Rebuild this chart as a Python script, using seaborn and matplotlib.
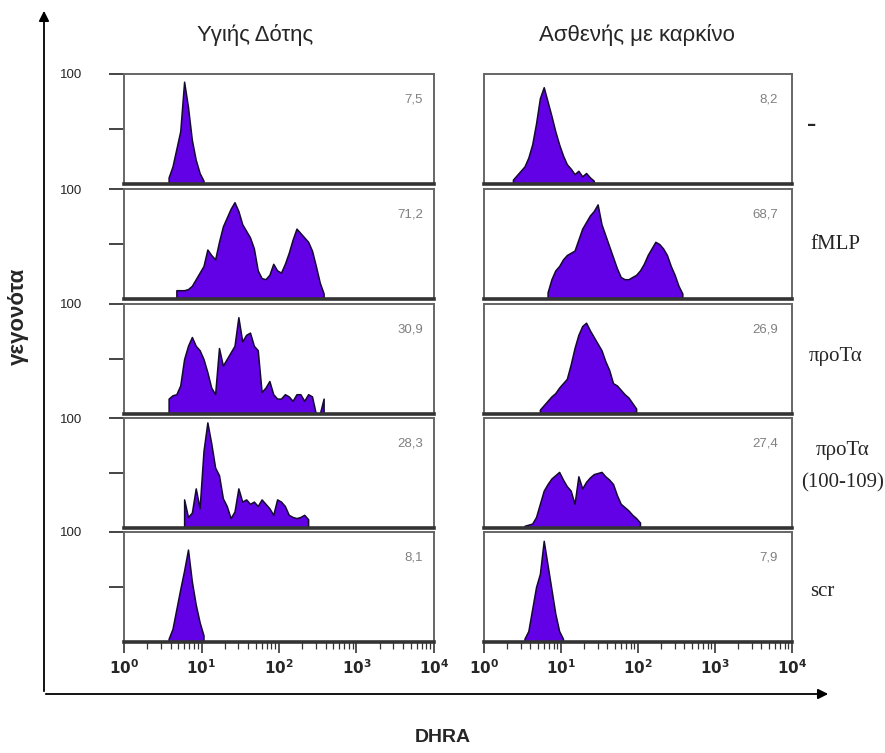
import numpy as np
import pandas as pd
import matplotlib
matplotlib.use("Agg")
import matplotlib.pyplot as plt
from matplotlib.ticker import LogLocator, NullFormatter, NullLocator, FixedLocator, FuncFormatter
import seaborn as sns

# ---- data ----
BIN_W = 0.05  # bin width in decades of DHRA fluorescence

columns = ["Υγιής Δότης", "Ασθενής με καρκίνο"]
conditions = ["-", "fMLP", "προΤα", "προΤα\n(100-109)", "scr"]
healthy_pct = ["7,5", "71,2", "30,9", "28,3", "8,1"]
patient_pct = ["8,2", "68,7", "26,9", "27,4", "7,9"]

# log10 of first bin edge for each panel
healthy_start = [0.55, 0.65, 0.55, 0.75, 0.55]
patient_start = [0.35, 0.80, 0.70, 0.50, 0.50]

# events per bin (% of panel max)
healthy_ctrl = [6, 16, 32, 48, 93, 70, 40, 22, 10, 3]
healthy_fmlp = [8, 8, 8, 9, 12, 18, 24, 30, 45, 40, 36, 52, 66, 74, 82, 88, 80,
                68, 62, 56, 46, 26, 19, 18, 22, 32, 26, 24, 32, 42, 54, 64, 60,
                56, 52, 44, 30, 15, 5]
healthy_prota = [14, 17, 18, 26, 50, 62, 70, 62, 58, 50, 38, 24, 18, 60, 44, 50,
                 56, 62, 88, 66, 72, 74, 62, 58, 20, 24, 30, 18, 14, 14, 18, 16,
                 12, 18, 18, 12, 18, 16, 0, 0, 14]
healthy_frag = [26, 10, 14, 36, 18, 70, 96, 77, 55, 48, 27, 20, 9, 15, 36, 24, 26,
                22, 24, 20, 26, 22, 18, 12, 26, 24, 20, 12, 10, 9, 10, 12, 8]
healthy_scr = [3, 12, 30, 48, 65, 84, 55, 34, 18, 6]

patient_ctrl = [4, 8, 12, 16, 24, 36, 55, 78, 88, 75, 62, 48, 36, 26, 18, 14, 9,
                12, 7, 10, 6, 3]
patient_fmlp = [6, 18, 26, 30, 36, 40, 42, 44, 54, 64, 70, 76, 80, 86, 68, 58, 48,
                38, 28, 20, 18, 18, 20, 22, 26, 32, 40, 46, 52, 50, 46, 40, 30,
                22, 12, 5]
patient_prota = [4, 8, 12, 16, 19, 24, 28, 32, 45, 60, 72, 80, 83, 76, 70, 64, 58,
                 48, 40, 28, 26, 22, 18, 15, 10, 5]
patient_frag = [2, 3, 4, 10, 22, 34, 40, 45, 48, 51, 44, 38, 34, 22, 47, 36, 42,
                46, 49, 50, 51, 47, 44, 40, 30, 22, 19, 16, 12, 9, 5]
patient_scr = [3, 10, 30, 50, 62, 92, 70, 48, 26, 10, 3]

PURPLE = "#6200e6"
EDGE = "#140a30"

W, H = 885, 753
col_left = [124, 484]
col_width = [310, 308]
row_top = [74, 189, 304, 418, 532]
row_h = 110

sns.set_style("white")
plt.rcParams["font.family"] = ["Liberation Sans", "DejaVu Sans"]

fig = plt.figure(figsize=(W / 100, H / 100), dpi=100)

# overlay in pixel coordinates for the big axis arrows
ov = fig.add_axes([0, 0, 1, 1], facecolor="none")
ov.set_xlim(0, W)
ov.set_ylim(H, 0)
ov.axis("off")
ov.annotate("", xy=(44, 8), xytext=(44, 694),
            arrowprops=dict(arrowstyle="-|>", lw=1.3, color="black", mutation_scale=15))
ov.annotate("", xy=(831, 694), xytext=(43, 694),
            arrowprops=dict(arrowstyle="-|>", lw=1.3, color="black", mutation_scale=15))

data = [[healthy_ctrl, healthy_fmlp, healthy_prota, healthy_frag, healthy_scr],
        [patient_ctrl, patient_fmlp, patient_prota, patient_frag, patient_scr]]
starts = [healthy_start, patient_start]
pcts = [healthy_pct, patient_pct]

decade_fmt = FuncFormatter(lambda v, pos: r"$\mathbf{10^{%d}}$" % round(np.log10(v)))

for c in range(2):
    for r in range(5):
        ax = fig.add_axes([col_left[c] / W, 1 - (row_top[r] + row_h) / H,
                           col_width[c] / W, row_h / H])
        counts = data[c][r]
        start = starts[c][r]
        lx = start + BIN_W * (np.arange(len(counts)) + 0.5)
        df = pd.DataFrame({"dhra": 10 ** lx, "events": counts})
        sns.histplot(data=df, x="dhra", weights="events", binwidth=BIN_W,
                     binrange=(start, start + BIN_W * len(counts)), log_scale=True,
                     element="poly", fill=True, color=PURPLE, edgecolor=EDGE,
                     linewidth=1.1, alpha=1, ax=ax)
        ax.set_xlim(1, 1e4)
        ax.set_ylim(0, 100)
        ax.set_xlabel("")
        ax.set_ylabel("")
        for side in ["top", "left", "right"]:
            ax.spines[side].set_color("#666666")
            ax.spines[side].set_linewidth(1.4)
        ax.spines["bottom"].set_color("#333333")
        ax.spines["bottom"].set_linewidth(2.6)

        ax.text(0.965 if c == 0 else 0.955, 0.77, pcts[c][r], transform=ax.transAxes,
                ha="right", va="center", fontsize=9.5, color="#808080")

        if c == 0:
            ax.yaxis.set_major_locator(FixedLocator([50, 100]))
            ax.set_yticklabels(["", "100"])
            ax.tick_params(axis="y", direction="out", length=11, width=1.4,
                           color="#444444", pad=19, labelsize=9.5, left=True)
        else:
            ax.yaxis.set_major_locator(NullLocator())

        if r == 4:
            ax.xaxis.set_major_locator(LogLocator(base=10, numticks=10))
            ax.xaxis.set_major_formatter(decade_fmt)
            ax.xaxis.set_minor_locator(LogLocator(base=10, subs=np.arange(2, 10), numticks=20))
            ax.xaxis.set_minor_formatter(NullFormatter())
            ax.tick_params(axis="x", which="major", direction="out", length=8, width=1.2,
                           color="#333333", labelsize=11, pad=4, bottom=True)
            ax.tick_params(axis="x", which="minor", direction="out", length=5, width=0.9,
                           color="#333333", bottom=True)
        else:
            ax.xaxis.set_major_locator(NullLocator())
            ax.xaxis.set_minor_locator(NullLocator())

# column titles
fig.text(255 / W, 1 - 35 / H, columns[0], ha="center", va="center", fontsize=16)
fig.text(637 / W, 1 - 35 / H, columns[1], ha="center", va="center", fontsize=16)

# condition labels on the right
label_x = [812, 835, 836, 843, 822]
label_y = [124, 245, 356, 467, 592]
for lab, xx, yy in zip(conditions, label_x, label_y):
    if lab == "-":
        fig.text(xx / W, 1 - yy / H, lab, ha="center", va="center", fontsize=20,
                 fontweight="bold", family="Liberation Serif")
    else:
        fig.text(xx / W, 1 - yy / H, lab, ha="center", va="center", fontsize=15,
                 family="Liberation Serif", linespacing=1.9)

fig.text(18 / W, 1 - 316 / H, "γεγονότα", rotation=90, ha="center", va="center",
         fontsize=16, fontweight="bold")
fig.text(443 / W, 1 - 737 / H, "DHRA", ha="center", va="center", fontsize=14,
         fontweight="bold")

fig.savefig("out.png", dpi=100, facecolor="white")
plt.close(fig)
